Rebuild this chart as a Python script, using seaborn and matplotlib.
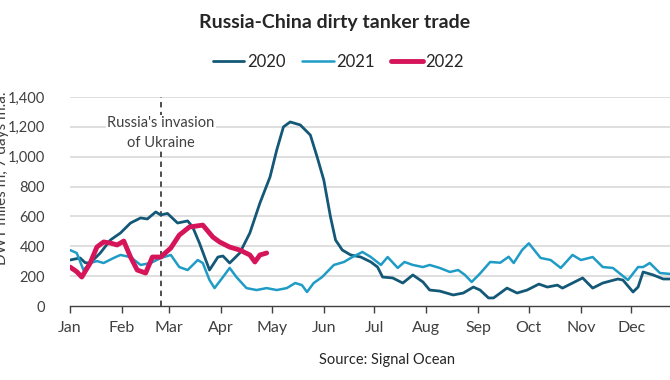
import matplotlib
matplotlib.use('Agg')
import matplotlib.pyplot as plt
from matplotlib.ticker import FuncFormatter
import pandas as pd
import seaborn as sns

### Russia-China dirty tanker trade, DWT miles (7 days m.a.)

# dia del año (0 = 1 de enero) y valor
days_2020 = [0, 6, 9, 12, 18, 24, 30, 36, 42, 46, 51, 54, 58, 64, 70, 73, 77, 83, 88, 91,
             95, 101, 107, 113, 119, 123, 127, 131, 137, 143, 147, 151, 155, 158, 162, 167,
             173, 179, 183, 186, 192, 198, 204, 210, 214, 220, 228, 234, 240, 244, 249, 252,
             260, 266, 272, 279, 284, 290, 293, 299, 305, 311, 317, 326, 329, 335, 338, 341,
             347, 353, 357]
vals_2020 = [308, 322, 290, 288, 355, 442, 489, 556, 590, 583, 630, 610, 620, 556, 570, 529,
             422, 241, 328, 335, 288, 355, 489, 690, 864, 1045, 1200, 1233, 1213, 1145, 1000,
             844, 596, 442, 375, 342, 328, 295, 261, 194, 188, 154, 208, 161, 107, 100, 74,
             87, 127, 107, 54, 54, 120, 87, 107, 147, 127, 140, 120, 154, 188, 120, 154, 181,
             174, 94, 127, 228, 208, 181, 181]

days_2021 = [0, 4, 8, 12, 16, 20, 26, 30, 36, 42, 48, 54, 60, 65, 70, 76, 79, 83, 86, 91,
             95, 99, 105, 111, 117, 123, 129, 134, 138, 141, 145, 150, 157, 163, 168, 174,
             179, 185, 189, 195, 199, 204, 210, 214, 220, 226, 231, 235, 239, 244, 250, 256,
             261, 264, 269, 273, 280, 286, 292, 299, 304, 311, 317, 323, 332, 338, 341, 345,
             351, 357]
vals_2021 = [375, 355, 241, 288, 301, 288, 322, 342, 328, 275, 288, 322, 342, 261, 241, 308,
             288, 174, 120, 194, 255, 194, 120, 107, 120, 107, 120, 154, 140, 94, 154, 194,
             275, 295, 328, 362, 328, 275, 328, 255, 295, 275, 261, 275, 255, 228, 241, 208,
             161, 218, 295, 290, 330, 288, 375, 420, 322, 308, 255, 342, 308, 328, 261, 255,
             174, 261, 261, 288, 221, 215]

days_2022 = [0, 4, 7, 12, 16, 20, 24, 28, 32, 36, 40, 45, 49, 54, 60, 65, 71, 79, 85, 89,
             95, 101, 107, 110, 113, 117]
vals_2022 = [261, 230, 194, 288, 395, 429, 422, 409, 435, 328, 241, 221, 328, 328, 389, 475,
             529, 542, 462, 429, 395, 375, 342, 295, 342, 355]

month_starts = [0, 31, 59, 90, 120, 151, 181, 212, 243, 273, 304, 334]
month_labels = ['Jan', 'Feb', 'Mar', 'Apr', 'May', 'Jun', 'Jul', 'Aug', 'Sep', 'Oct', 'Nov', 'Dec']
invasion_day = 54  # 24 feb

colores = {'2020': '#145877', '2021': '#1f9cc6', '2022': '#d5145a'}
grosor = {'2020': 2.0, '2021': 1.8, '2022': 3.5}

sns.set_theme(style='white')
plt.rcParams['font.family'] = ['Lato', 'DejaVu Sans']

frames = []
for year, d, v in [('2020', days_2020, vals_2020), ('2021', days_2021, vals_2021),
                   ('2022', days_2022, vals_2022)]:
    frames.append(pd.DataFrame({'day': d, 'value': v, 'year': year}))
df = pd.concat(frames)

fig = plt.figure(figsize=(6.7, 3.8), dpi=100)
ax = fig.add_axes([0.1045, 0.1947, 0.8955, 0.55])

for year in ['2020', '2021', '2022']:
    sub = df[df['year'] == year]
    sns.lineplot(data=sub, x='day', y='value', ax=ax, color=colores[year],
                 linewidth=grosor[year], label=year, zorder=3)

ax.set_xlim(0, 357)
ax.set_ylim(0, 1400)
ax.set_yticks(range(0, 1401, 200))
ax.yaxis.set_major_formatter(FuncFormatter(lambda v, p: '{:,.0f}'.format(v)))
ax.set_xticks(month_starts)
ax.set_xticklabels(month_labels)
ax.set_xlabel('')
ax.set_ylabel('')

for y in range(200, 1401, 200):
    ax.axhline(y, color='#d9d9d9', linewidth=1.2, zorder=1)

for s in ['top', 'right', 'left']:
    ax.spines[s].set_visible(False)
ax.spines['bottom'].set_color('#404040')
ax.spines['bottom'].set_linewidth(1.0)
ax.tick_params(axis='x', bottom=True, length=5, width=1, color='#404040',
               labelsize=11.5, labelcolor='#404040', pad=6)
ax.tick_params(axis='y', left=False, labelsize=10.5, labelcolor='#404040', pad=12)

# linea de la invasion
ax.axvline(invasion_day, color='#404040', linestyle=(0, (3, 2.5)), linewidth=1.3, zorder=2)
ax.text(invasion_day, 1160, "Russia's invasion\nof Ukraine", ha='center', va='center',
        fontsize=10.5, color='#404040', linespacing=1.5,
        bbox=dict(facecolor='white', edgecolor='none', pad=1), zorder=4)

ax.legend(loc='center', bbox_to_anchor=(0.505, 0.837), bbox_transform=fig.transFigure,
          ncol=3, frameon=False, fontsize=12, handlelength=1.9, handletextpad=0.15,
          columnspacing=1.0, labelcolor='#262626')

fig.text(0.5, 0.94, 'Russia-China dirty tanker trade', ha='center', va='center',
         fontsize=14, fontweight='bold', color='#262626')
fig.text(0.577, 0.053, 'Source: Signal Ocean', ha='center', va='center',
         fontsize=10.5, color='#262626')
fig.text(0.003, 0.53, 'DWT miles m, 7 days m.a.', ha='center', va='center',
         rotation=90, fontsize=11, color='#404040')

fig.savefig('out.png', dpi=100)
